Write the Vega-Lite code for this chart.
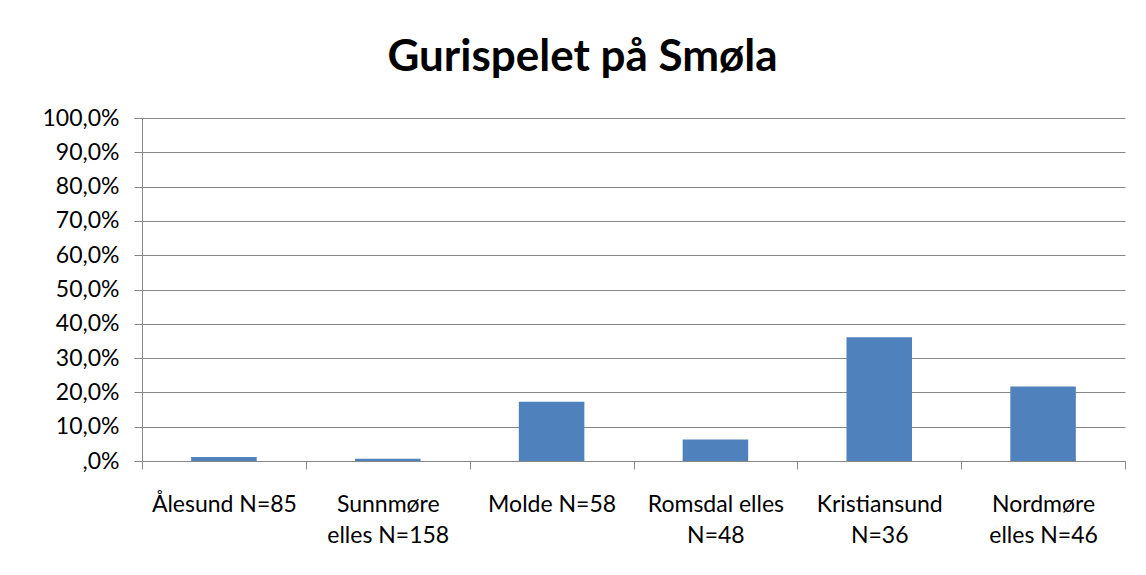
{
  "$schema": "https://vega.github.io/schema/vega-lite/v6.json",
  "width": 983,
  "height": 343,
  "autosize": {"type": "none"},
  "padding": {"left": 142, "top": 118, "right": 21, "bottom": 114},
  "background": "white",
  "title": {
    "text": "Gurispelet på Smøla",
    "font": "Lato",
    "fontSize": 44,
    "fontWeight": "bold",
    "color": "#000000",
    "anchor": "middle",
    "baseline": "alphabetic",
    "offset": -8,
    "dx": -51
  },
  "data": {
    "values": [
      {"region": "Ålesund N=85", "share": 0.0118},
      {"region": "Sunnmøre elles N=158", "share": 0.0063},
      {"region": "Molde N=58", "share": 0.1724},
      {"region": "Romsdal elles N=48", "share": 0.0625},
      {"region": "Kristiansund N=36", "share": 0.3611},
      {"region": "Nordmøre elles N=46", "share": 0.2174}
    ]
  },
  "mark": {"type": "bar", "color": "#4F81BD", "width": {"band": 0.4}},
  "encoding": {
    "x": {
      "field": "region",
      "type": "nominal",
      "sort": null,
      "scale": {"paddingInner": 0, "paddingOuter": 0},
      "axis": {
        "title": null,
        "labelAngle": 0,
        "tickBand": "extent",
        "tickSize": 8,
        "tickColor": "#868686",
        "domainColor": "#868686",
        "labelFont": "Lato",
        "labelFontSize": 23,
        "labelColor": "#000000",
        "labelBaseline": "top",
        "labelPadding": 24,
        "labelLineHeight": 31,
        "labelLimit": 400,
        "grid": false,
        "labelExpr": "datum.label == 'Sunnmøre elles N=158' ? ['Sunnmøre', 'elles N=158'] : datum.label == 'Romsdal elles N=48' ? ['Romsdal elles', 'N=48'] : datum.label == 'Kristiansund N=36' ? ['Kristiansund', 'N=36'] : datum.label == 'Nordmøre elles N=46' ? ['Nordmøre', 'elles N=46'] : datum.label"
      }
    },
    "y": {
      "field": "share",
      "type": "quantitative",
      "scale": {"domain": [0, 1], "nice": false},
      "axis": {
        "title": null,
        "values": [0, 0.1, 0.2, 0.3, 0.4, 0.5, 0.6, 0.7, 0.8, 0.9, 1],
        "labelExpr": "datum.value == 0 ? ',0%' : replace(format(datum.value * 100, '.1f'), '.', ',') + '%'",
        "tickSize": 8,
        "tickColor": "#868686",
        "domainColor": "#868686",
        "gridColor": "#868686",
        "labelFont": "Lato",
        "labelFontSize": 23,
        "labelColor": "#000000",
        "labelPadding": 15
      }
    }
  },
  "config": {"view": {"stroke": null}}
}
